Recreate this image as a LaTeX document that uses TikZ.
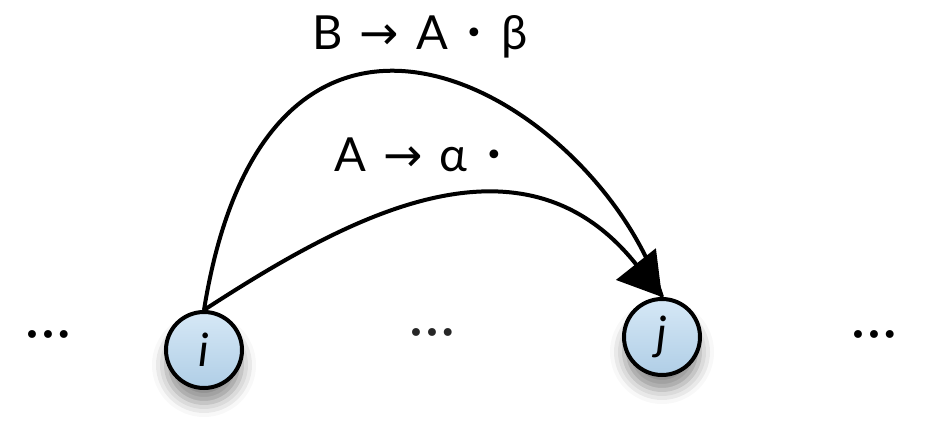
\documentclass[tikz,border=0pt]{standalone}
\usepackage{fontspec}
\setmainfont{Lato}
\newfontfamily\symfont{DejaVu Sans}
\usetikzlibrary{arrows.meta,shadows.blur}
\definecolor{nodetop}{RGB}{214,232,246}
\definecolor{nodebot}{RGB}{176,206,230}
\tikzset{
  statenode/.style={circle, draw=black, line width=4pt, minimum size=76pt, inner sep=0pt,
    top color=nodetop, bottom color=nodebot,
    blur shadow={shadow xshift=0pt, shadow yshift=-15pt, shadow blur radius=14pt, shadow opacity=45},
    font=\fontsize{46}{46}\selectfont\itshape},
  rulelabel/.style={font=\fontsize{47}{47}\selectfont, inner sep=0pt, anchor=base},
  dotsnode/.style={font=\symfont\fontsize{27}{27}\selectfont, inner sep=0pt},
  edge/.style={line width=4pt}
}
\newcommand{\arr}{\hspace{5pt}{\symfont →}\hspace{5pt}}
\newcommand{\bul}{\hspace{6pt}{\symfont\fontsize{30}{30}\selectfont\raisebox{6pt}{•}}\hspace{6pt}}
\begin{document}
\begin{tikzpicture}[x=1pt,y=-1pt]
\useasboundingbox (0,0) rectangle (930,446);
\node[statenode] (i) at (204,350) {i};
\node[statenode] (j) at (662,337) {j};
\node[dotsnode] (ldots) at (48,338) {•••};
\node[dotsnode] (rdots) at (874,338) {•••};
\node[dotsnode, text=black!85] (mdots) at (432,336) {•••};
\node[rulelabel] (outerlab) at (420,50) {B \arr{} A \bul{} β};
\node[rulelabel] (innerlab) at (419,172) {A \arr{} α \bul};
\draw[edge] (i.north) .. controls (270,-100) and (600,100) .. (j.north);
\draw[edge, -{Triangle[length=42pt,width=50pt]}] (i.north) .. controls (340,222) and (520,118) .. (j.north);
\end{tikzpicture}
\end{document}
